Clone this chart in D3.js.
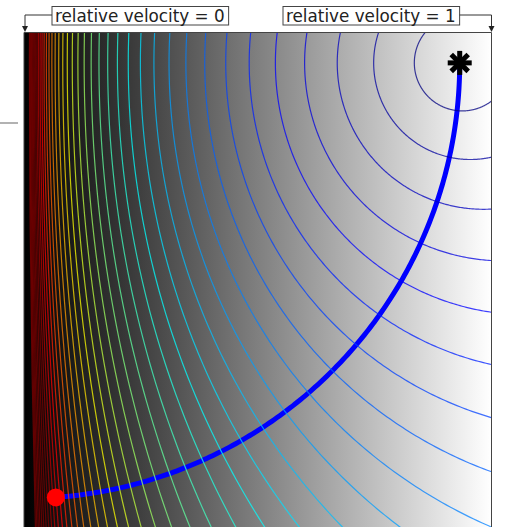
<!DOCTYPE html>
<html>
<head>
<meta charset="utf-8">
<script src="https://cdn.jsdelivr.net/npm/d3@7"></script>
<style>
  body { margin: 0; background: #fff; }
  svg { display: block; }
</style>
</head>
<body>
<svg width="508" height="527"></svg>
<script>
// star = goal, dot = start (x = relative velocity, y in same units)
var star = { x: 0.932, y: 1.035 };
var start = { x: 0.068 };
// contour levels (travel time from the star)
var levels = [0.11, 0.22, 0.33, 0.44, 0.55, 0.66, 0.77, 0.88, 0.99, 1.10,
  1.21, 1.32, 1.43, 1.54, 1.65, 1.76, 1.87, 1.98, 2.09, 2.20,
  2.31, 2.42, 2.53, 2.64, 2.75, 2.86, 2.97, 3.08, 3.19, 3.30,
  3.41, 3.52, 3.63, 3.74, 3.85, 3.96, 4.07, 4.18, 4.29, 4.40];
var labels = ["relative velocity = 0", "relative velocity = 1"];

var pLeft = 24, pTop = 32.5, pRight = 491.5, pBottom = 527;
var unit = pRight - pLeft;

var svg = d3.select("svg");

var x = d3.scaleLinear().domain([0, 1]).range([pLeft, pRight]);
var y = d3.scaleLinear().domain([0, 1.1]).range([pTop + 1.1 * unit, pTop]);

var defs = svg.append("defs");
var grad = defs.append("linearGradient").attr("id", "bg")
  .attr("x1", "0%").attr("x2", "100%").attr("y1", "0%").attr("y2", "0%");
grad.append("stop").attr("offset", "0%").attr("stop-color", "#000");
grad.append("stop").attr("offset", "100%").attr("stop-color", "#fff");

defs.append("clipPath").attr("id", "clip")
  .append("rect")
  .attr("x", pLeft).attr("y", pTop)
  .attr("width", pRight - pLeft).attr("height", pBottom - pTop);

// stray line at the left edge
svg.append("line")
  .attr("x1", 0).attr("x2", 18).attr("y1", 123).attr("y2", 123)
  .attr("stroke", "#999").attr("stroke-width", 1.5);

var plot = svg.append("g").attr("clip-path", "url(#clip)");

plot.append("rect")
  .attr("x", pLeft).attr("y", pTop)
  .attr("width", pRight - pLeft).attr("height", pBottom - pTop)
  .attr("fill", "url(#bg)");

function jet(t) {
  t = Math.max(0, Math.min(1, t));
  var c = function (v) { return Math.round(255 * Math.max(0, Math.min(1, 1.5 - Math.abs(v)))); };
  return "rgb(" + c(4 * t - 3) + "," + c(4 * t - 2) + "," + c(4 * t - 1) + ")";
}

var line = d3.line().x(function (d) { return x(d[0]); }).y(function (d) { return y(d[1]); });
var angles = d3.range(0, 721).map(function (i) { return i / 720 * 2 * Math.PI; });

// geodesic from start to star: arc centred on the v = 0 edge
var R = star.x;
var a0 = Math.acos(start.x / R);
var arcPts = d3.range(0, 201).map(function (i) {
  var a = -a0 * (1 - i / 200);
  return [R * Math.cos(a), star.y + R * Math.sin(a)];
});
plot.append("path")
  .attr("d", line(arcPts))
  .attr("fill", "none")
  .attr("stroke", "#0000ff")
  .attr("stroke-width", 5);

// contours: circles of equal travel time around the star
plot.selectAll(".contour")
  .data(levels)
  .enter()
  .append("path")
  .attr("class", "contour")
  .attr("d", function (d) {
    var cx = star.x * Math.cosh(d), r = star.x * Math.sinh(d);
    return line(angles.map(function (a) { return [cx + r * Math.cos(a), star.y + r * Math.sin(a)]; }));
  })
  .attr("fill", "none")
  .attr("stroke", function (d, i) { return jet(i / 32); })
  .attr("stroke-opacity", 0.75)
  .attr("stroke-width", 1.2);

// start dot
var sy = star.y - Math.sqrt(R * R - start.x * start.x);
svg.append("circle")
  .attr("cx", x(start.x)).attr("cy", y(sy)).attr("r", 9)
  .attr("fill", "#ff0000");

// star marker (asterisk)
var sg = svg.append("g").attr("transform", "translate(" + x(star.x) + "," + y(star.y) + ")");
[0, 45, 90, 135].forEach(function (deg) {
  sg.append("line")
    .attr("x1", 0).attr("y1", -12).attr("x2", 0).attr("y2", 12)
    .attr("transform", "rotate(" + deg + ")")
    .attr("stroke", "#000").attr("stroke-width", 5);
});

// frame
svg.append("path")
  .attr("d", "M" + pLeft + "," + pBottom + "V" + pTop + "H" + pRight + "V" + pBottom)
  .attr("fill", "none").attr("stroke", "#444").attr("stroke-width", 1);

// annotations
var boxes = [
  { text: labels[0], bx: 52, target: x(0) },
  { text: labels[1], bx: 283, target: x(1) }
];
boxes.forEach(function (b, i) {
  var g = svg.append("g");
  var t = g.append("text")
    .attr("x", b.bx + 3).attr("y", 21.5)
    .attr("font-family", "DejaVu Sans")
    .attr("font-size", 16.8)
    .attr("fill", "#222")
    .text(b.text);
  var w = t.node().getComputedTextLength() + 7;
  g.insert("rect", "text")
    .attr("x", b.bx).attr("y", 6.5).attr("width", w).attr("height", 18.5)
    .attr("fill", "#fff").attr("stroke", "#444").attr("stroke-width", 1);
  var edge = i === 0 ? b.bx : b.bx + w;
  var tx = i === 0 ? b.target + 1 : b.target;
  g.append("path")
    .attr("d", "M" + edge + ",15H" + tx + "V27")
    .attr("fill", "none").attr("stroke", "#333").attr("stroke-width", 1);
  g.append("path")
    .attr("d", "M" + (tx - 3) + ",26L" + (tx + 3) + ",26L" + tx + ",32Z")
    .attr("fill", "#222");
});
</script>
</body>
</html>
